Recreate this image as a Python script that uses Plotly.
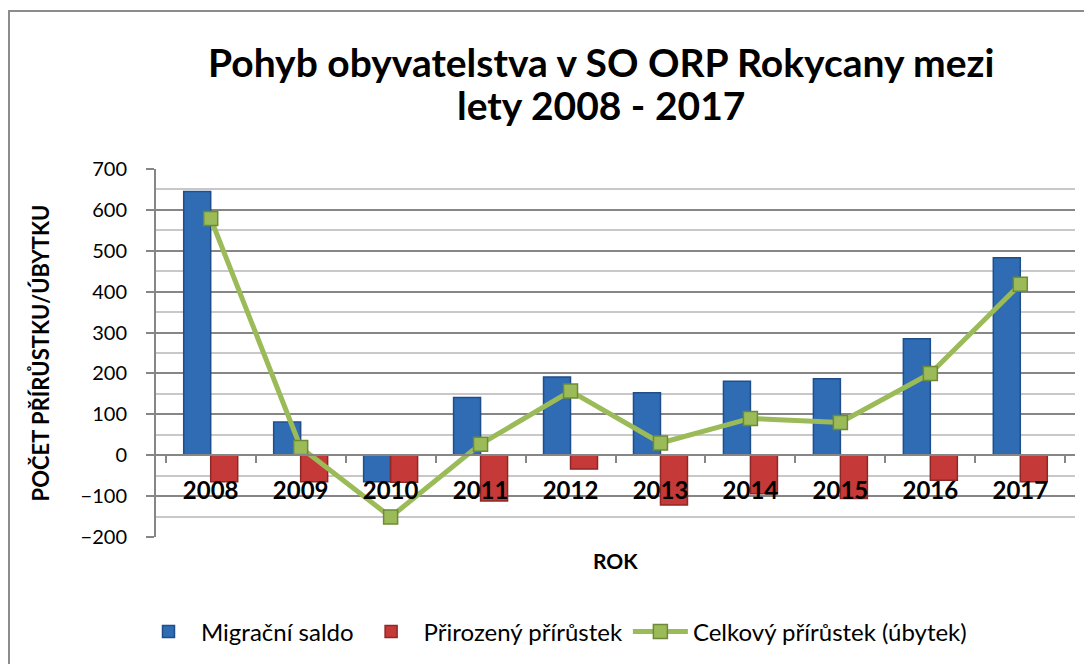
'''
    Pohyb obyvatelstva v SO ORP Rokycany 2008 - 2017 (bars + total line).
'''

import plotly.graph_objects as go

# data
roky = ['2008', '2009', '2010', '2011', '2012', '2013', '2014', '2015', '2016', '2017']
migracni_saldo = [645, 81, -65, 141, 191, 153, 181, 187, 285, 483]
prirozeny_prirustek = [-65, -65, -66, -112, -34, -122, -94, -106, -61, -65]
celkovy_prirustek = [579, 19, -151, 27, 157, 30, 90, 80, 200, 418]

FONT = 'Lato'
BLUE = '#2F6CB3'
RED = '#C53A38'
GREEN = '#9BBB59'

# page body adds 8px, so the figure is 8px smaller and everything is shifted
W, H = 1084, 656
PL, PR, PT, PB = 148, 1067, 161, 529   # plot area in figure pixels


def px_x(x):
    return (x - PL) / (PR - PL)


def px_y(y):
    return (PB - y) / (PB - PT)


fig = go.Figure()

fig.add_trace(go.Bar(
    x=roky, y=migracni_saldo, name='Migrační saldo',
    marker=dict(color=BLUE, line=dict(color='#1F4E8A', width=1.5)),
))
fig.add_trace(go.Bar(
    x=roky, y=prirozeny_prirustek, name='Přirozený přírůstek',
    marker=dict(color=RED, line=dict(color='#8E2826', width=1.5)),
))
fig.add_trace(go.Scatter(
    x=roky, y=celkovy_prirustek, name='Celkový přírůstek (úbytek)',
    mode='lines+markers',
    line=dict(color=GREEN, width=5),
    marker=dict(symbol='square', size=14, color=GREEN,
                line=dict(color='#6E8A37', width=1.5)),
))

fig.update_layout(
    width=W, height=H,
    margin=dict(l=PL, r=W - PR, t=PT, b=H - PB, autoexpand=False),
    paper_bgcolor='white', plot_bgcolor='white',
    barmode='group', bargap=0.4, bargroupgap=0,
    font=dict(family=FONT, color='black'),
    showlegend=True,
    legend=dict(
        orientation='h', x=px_x(546), xanchor='center', y=px_y(624), yanchor='middle',
        font=dict(size=24, family=FONT, color='black'),
        itemwidth=55, traceorder='normal',
    ),
)

fig.update_yaxes(
    range=[-200, 700], dtick=100, tick0=0,
    showgrid=True, gridcolor='#868686', gridwidth=2,
    minor=dict(dtick=50, showgrid=True, gridcolor='#C8C8C8', gridwidth=2),
    zeroline=False,
    showline=True, linecolor='#868686', linewidth=2,
    ticks='outside', ticklen=8, tickcolor='#868686', tickwidth=2,
    ticklabelstandoff=15,
    tickfont=dict(size=20, family=FONT, color='black'),
    title=dict(text='<b>POČET PŘÍRŮSTKU/ÚBYTKU</b>', standoff=25,
               font=dict(size=22, family=FONT, color='black')),
    automargin=False,
)

# x axis sits on the zero line
fig.update_xaxes(
    anchor='free', position=200 / 900,
    showline=True, linecolor='#868686', linewidth=2,
    ticks='outside', tickson='boundaries', ticklen=7, tickcolor='#868686', tickwidth=2,
    ticklabelstandoff=14,
    tickfont=dict(size=24, family=FONT, color='black'),
    tickprefix='<b>', ticksuffix='</b>',
    showgrid=False, automargin=False,
)

# title, two lines
for txt, yc in [('Pohyb obyvatelstva v SO ORP Rokycany mezi', 54), ('lety 2008 - 2017', 97)]:
    fig.add_annotation(
        text='<b>' + txt + '</b>', xref='paper', yref='paper',
        x=px_x(593), y=px_y(yc), yanchor='middle', showarrow=False,
        font=dict(size=39, family=FONT, color='black'),
    )

fig.add_annotation(
    text='<b>ROK</b>', xref='paper', yref='paper', x=0.5, y=px_y(552),
    yanchor='middle', showarrow=False, font=dict(size=21, family=FONT, color='black'),
)

# outer chart border (cut off on right and bottom as in the picture)
fig.add_shape(
    type='rect', xref='paper', yref='paper',
    x0=px_x(1), x1=px_x(1200), y0=px_y(800), y1=px_y(3),
    line=dict(color='#8C8C8C', width=2), fillcolor='rgba(0,0,0,0)', layer='below',
)

fig.write_html('out.html')
